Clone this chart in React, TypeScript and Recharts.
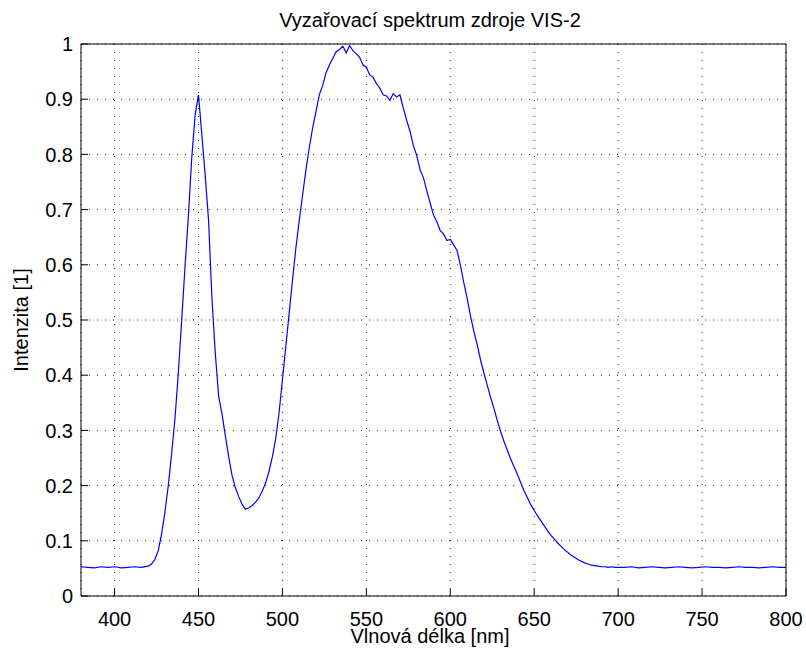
import { LineChart, Line, CartesianGrid, XAxis, YAxis } from "recharts";

// sampling grid of the spectrometer export [nm]
const wavelengthNm = [
  380, 384, 388, 392, 396, 400, 404, 408, 412, 416, 420,
  422, 424, 426, 428, 430, 432, 434, 436, 438, 440,
  442, 444, 446, 448, 450, 452, 454, 456, 458, 460,
  462, 464, 466, 468, 470, 472, 474, 476, 478, 480,
  482, 484, 486, 488, 490, 492, 494, 496, 498, 500,
  502, 504, 506, 508, 510, 512, 514, 516, 518, 520,
  522, 524, 526, 528, 530, 532, 534, 536, 538, 540,
  542, 544, 546, 548, 550, 552, 554, 556, 558, 560,
  562, 564, 566, 568, 570, 572, 574, 576, 578, 580,
  582, 584, 586, 588, 590, 592, 594, 596, 598, 600,
  602, 604, 606, 608, 610, 612, 614, 616, 618, 620,
  622, 624, 626, 628, 630, 632, 634, 636, 638, 640,
  642, 644, 646, 648, 650, 652, 654, 656, 658, 660,
  662, 664, 666, 668, 670, 672, 674, 676, 678, 680,
  682, 684, 686, 688, 690, 692, 694, 696, 698, 700,
  704, 708, 712, 716, 720, 724, 728, 732, 736, 740,
  744, 748, 752, 756, 760, 764, 768, 772, 776, 780,
  784, 788, 792, 796, 800,
];

// normalised intensity [1]
const intensity = [
  0.053, 0.052, 0.051, 0.053, 0.052, 0.053, 0.051, 0.052, 0.053, 0.052, 0.054,
  0.058, 0.066, 0.082, 0.112, 0.152, 0.2, 0.258, 0.322, 0.405, 0.5,
  0.598, 0.69, 0.795, 0.872, 0.908, 0.835, 0.762, 0.68, 0.54, 0.44,
  0.362, 0.33, 0.29, 0.252, 0.218, 0.196, 0.18, 0.166, 0.157, 0.16,
  0.164, 0.17, 0.178, 0.19, 0.205, 0.226, 0.252, 0.285, 0.332, 0.392,
  0.452, 0.512, 0.572, 0.63, 0.68, 0.726, 0.772, 0.812, 0.848, 0.878,
  0.908, 0.925, 0.948, 0.962, 0.974, 0.986, 0.99, 0.996, 0.984, 0.997,
  0.988, 0.982, 0.976, 0.962, 0.958, 0.944, 0.94, 0.928, 0.92, 0.908,
  0.906, 0.898, 0.91, 0.904, 0.908, 0.884, 0.862, 0.842, 0.816, 0.798,
  0.772, 0.758, 0.734, 0.712, 0.69, 0.678, 0.662, 0.656, 0.644, 0.646,
  0.636, 0.626, 0.6, 0.568, 0.54, 0.508, 0.48, 0.456, 0.428, 0.404,
  0.382, 0.36, 0.34, 0.318, 0.298, 0.28, 0.264, 0.248, 0.234, 0.22,
  0.205, 0.19, 0.178, 0.165, 0.155, 0.145, 0.136, 0.127, 0.118, 0.11,
  0.103, 0.096, 0.09, 0.084, 0.079, 0.074, 0.07, 0.066, 0.063, 0.06,
  0.058, 0.056, 0.055, 0.054, 0.053, 0.053, 0.052, 0.053, 0.052, 0.052,
  0.052, 0.053, 0.051, 0.052, 0.053, 0.052, 0.051, 0.052, 0.053, 0.052,
  0.051, 0.052, 0.053, 0.052, 0.052, 0.051, 0.052, 0.053, 0.052, 0.052,
  0.051, 0.052, 0.053, 0.052, 0.052,
];

const xTicks = [400, 450, 500, 550, 600, 650, 700, 750, 800];
const yTicks = [0, 0.1, 0.2, 0.3, 0.4, 0.5, 0.6, 0.7, 0.8, 0.9, 1];

const data = wavelengthNm.map((nm, i) => ({ nm, value: intensity[i] }));

const FONT = "'Liberation Sans', Arial, sans-serif";
const tickStyle = { fill: "#000", fontSize: 20, fontFamily: FONT };
const noLabel = () => "";

export default function App() {
  return (
    <div
      style={{
        position: "absolute",
        left: 0,
        top: 0,
        width: 806,
        height: 654,
        background: "#fff",
        fontFamily: FONT,
        color: "#000",
      }}
    >
      <div
        style={{
          position: "absolute",
          left: 130,
          width: 600,
          top: 10,
          lineHeight: "20px",
          fontSize: 20,
          textAlign: "center",
        }}
      >
        Vyzařovací spektrum zdroje VIS-2
      </div>
      <LineChart
        width={806}
        height={654}
        data={data}
        margin={{ top: 43, right: 19, bottom: 28, left: 21 }}
      >
        <CartesianGrid stroke="#222" strokeDasharray="1 7" />
        <XAxis
          dataKey="nm"
          type="number"
          domain={[380, 800]}
          ticks={xTicks}
          height={30}
          stroke="#000"
          tickSize={-7}
          tickMargin={23}
          tick={tickStyle}
          interval={0}
        />
        {/* box edges with inward ticks, no labels */}
        <XAxis
          xAxisId="top"
          orientation="top"
          type="number"
          domain={[380, 800]}
          ticks={xTicks}
          height={1}
          stroke="#000"
          tickSize={-7}
          tickFormatter={noLabel}
          interval={0}
        />
        <YAxis
          type="number"
          domain={[0, 1]}
          ticks={yTicks}
          width={60}
          stroke="#000"
          tickSize={-7}
          tickMargin={15}
          tick={tickStyle}
          interval={0}
        />
        <YAxis
          yAxisId="right"
          orientation="right"
          type="number"
          domain={[0, 1]}
          ticks={yTicks}
          width={1}
          stroke="#000"
          tickSize={-7}
          tickFormatter={noLabel}
          interval={0}
        />
        <Line
          dataKey="value"
          type="linear"
          stroke="#0000ff"
          strokeWidth={1.2}
          dot={false}
          isAnimationActive={false}
        />
      </LineChart>
      <div
        style={{
          position: "absolute",
          left: 130,
          width: 600,
          top: 628,
          lineHeight: "16px",
          fontSize: 20,
          textAlign: "center",
        }}
      >
        Vlnová délka [nm]
      </div>
      <div
        style={{
          position: "absolute",
          left: -79,
          top: 310,
          width: 200,
          height: 20,
          lineHeight: "20px",
          fontSize: 20,
          textAlign: "center",
          transform: "rotate(-90deg)",
        }}
      >
        Intenzita [1]
      </div>
    </div>
  );
}
